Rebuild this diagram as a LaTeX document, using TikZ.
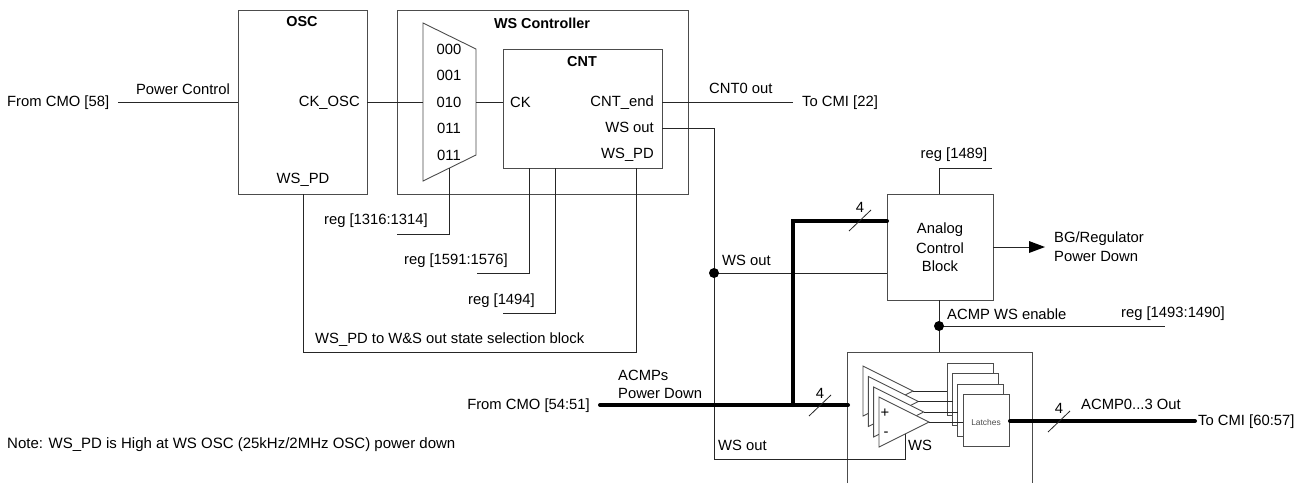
\documentclass[tikz,border=0pt]{standalone}
\usepackage{fontspec}
\setmainfont{Liberation Sans}
\tikzset{
  base/.style={x=1pt,y=-1pt},
  wire/.style={draw=black!85,line width=0.8pt},
  bus/.style={draw=black,line width=4pt,line cap=round},
  boxn/.style={draw=black!70,line width=0.9pt,fill=white},
  txt/.style={inner sep=0pt,yshift=-0.8pt,font=\fontsize{14.8}{18}\selectfont},
  bold/.style={inner sep=0pt,font=\fontsize{14.4}{18}\selectfont\bfseries},
  dot/.style={circle,fill=black,inner sep=0pt,minimum size=10pt},
  tiny/.style={inner sep=0pt,font=\fontsize{8.4}{10}\selectfont,text=black!70}
}
\begin{document}
\begin{tikzpicture}[base]
\useasboundingbox (0,0) rectangle (1307,483);
% boxes
\draw[boxn] (238,10) rectangle (367,194);
\draw[boxn] (397,10) rectangle (688,194);
\draw[boxn] (503,49) rectangle (662,168);
\draw[boxn] (423,23) -- (476,49) -- (476,155) -- (423,181) -- cycle;
\draw[boxn] (887,194) rectangle (993,300);
\draw[boxn] (847,483) -- (847,352) -- (1032,352) -- (1032,483);
\node[bold] at (302,22) {OSC};
\node[bold] at (542,23) {WS Controller};
\node[bold] at (582,62) {CNT};
\foreach \t/\y in {000/49,001/75,010/102,011/128,011/155} \node[txt] at (449,\y) {\t};
\node[txt,anchor=east] at (360,102) {CK\_OSC};
\node[txt] at (303,179) {WS\_PD};
\node[txt,anchor=west] at (510,102) {CK};
\node[txt,anchor=east] at (654,102) {CNT\_end};
\node[txt,anchor=east] at (654,127) {WS out};
\node[txt,anchor=east] at (654,154) {WS\_PD};
\node[txt] at (940,229) {Analog};
\node[txt] at (940,247) {Control};
\node[txt] at (940,265) {Block};
% text
\node[txt,anchor=west] at (7,102) {From CMO [58]};
\node[txt] at (183,88) {Power Control};
\node[txt,anchor=west] at (709,88) {CNT0 out};
\node[txt,anchor=west] at (802,102) {To CMI [22]};
\node[txt] at (954,154) {reg [1489]};
\node[txt,anchor=west] at (1054,238) {BG/Regulator};
\node[txt,anchor=west] at (1054,256) {Power Down};
\node[txt,anchor=west] at (722,260) {WS out};
\node[txt,anchor=west] at (947,313) {ACMP WS enable};
\node[txt,anchor=east] at (1225,313) {reg [1493:1490]};
\node[txt,anchor=west] at (315,339) {WS\_PD to W\&S out state selection block};
\node[txt,anchor=east] at (428,220) {reg [1316:1314]};
\node[txt,anchor=east] at (508,260) {reg [1591:1576]};
\node[txt,anchor=east] at (535,300) {reg [1494]};
\node[txt,anchor=east] at (590,405) {From CMO [54:51]};
\node[txt,anchor=west] at (618,375) {ACMPs};
\node[txt,anchor=west] at (618,393) {Power Down};
\node[txt,anchor=west] at (718,445) {WS out};
\node[txt,anchor=west] at (7,444) {\fontsize{15}{18}\selectfont Note: WS\_PD is High at WS OSC (25kHz/2MHz OSC) power down};
\node[txt,anchor=west] at (1081,404) {ACMP0...3 Out};
\node[txt,anchor=west] at (1198,421) {To CMI [60:57]};
\node[txt] at (860,207) {4};
\node[txt] at (820,393) {4};
\node[txt] at (1059,408) {4};
% wires
\draw[wire] (118,102) -- (238,102);
\draw[wire] (367,102) -- (423,102);
\draw[wire] (476,102) -- (503,102);
\draw[wire] (662,102) -- (793,102);
\draw[wire] (662,128) -- (714,128) -- (714,459) -- (905,459) -- (905,433);
\draw[wire] (714,273) -- (887,273);
\draw[wire] (939,194) -- (939,168) -- (992,168);
\draw[wire] (939,300) -- (939,352);
\draw[wire] (939,326) -- (1165,326);
\draw[wire] (449,168) -- (449,234) -- (397,234);
\draw[wire] (529,168) -- (529,273) -- (477,273);
\draw[wire] (555,168) -- (555,313) -- (503,313);
\draw[wire] (636,168) -- (636,352) -- (303,352) -- (303,194);
\node[dot] (d1) at (714,273) {};
\node[dot] (d2) at (939,326) {};
% arrow
\draw[wire] (993,247) -- (1030,247);
\fill (1029,241) -- (1045,247) -- (1029,253) -- cycle;
% buses
\draw[bus] (600,405) -- (848,405);
\draw[bus] (793,405) -- (793,221) -- (887,221);
\draw[bus] (1008,421) -- (1195,421);
\draw[wire] (849,231) -- (871,210);
\draw[wire] (809,416) -- (831,395);
\draw[wire] (1048,432) -- (1070,411);
% comparators + latches
\foreach \x/\y in {0/0,5.3/10.5,10.6/21,16/31} {
  \draw[boxn] (863+\x,366+\y) -- (913+\x,391+\y) -- (863+\x,416+\y) -- cycle;
  \draw[boxn] (947+\x,363+\y) rectangle (993+\x,415+\y);
}
\foreach \y/\a/\b in {391/913/947,401/918/953,412/924/958,422/929/963} \draw[wire] (\a,\y) -- (\b,\y);
\draw[bus] (1010,421) -- (1014,421);
\node[txt] at (885,412) {+};
\node[txt] at (886,433) {-};
\node[txt,anchor=west] at (908,445) {WS};
\node[tiny] at (986,422) {Latches};
\end{tikzpicture}
\end{document}
